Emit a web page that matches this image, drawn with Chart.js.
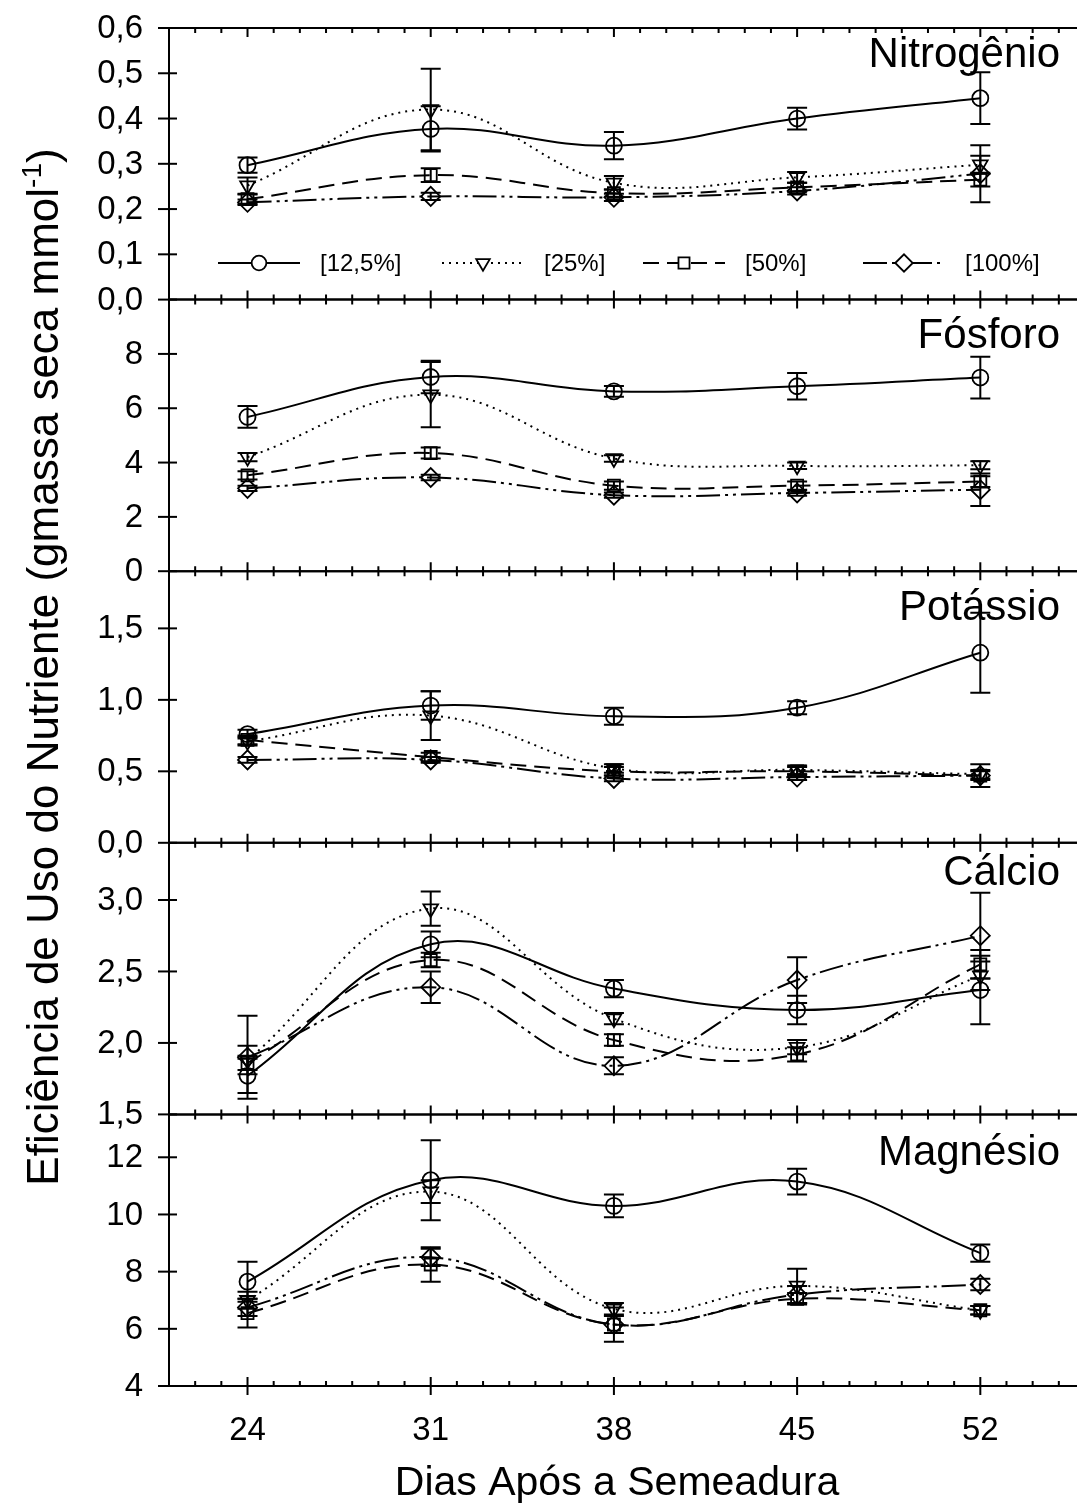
<!DOCTYPE html>
<html>
<head>
<meta charset="utf-8">
<script src="https://cdn.jsdelivr.net/npm/chart.js@4.4.1/dist/chart.umd.min.js"></script>
<style>
  html, body { margin: 0; padding: 0; background: #fff; overflow: hidden; }
  #quadro { width: 1077px; height: 1503px; overflow: hidden; }
  canvas { display: block; }
</style>
</head>
<body>
<div id="quadro"><canvas id="grafico" width="1100" height="1503"></canvas></div>
<script>
const dias = [24, 31, 38, 45, 52];
const ticksDias = [24, 31, 38, 45, 52];
const tratamentos = ['[12,5%]', '[25%]', '[50%]', '[100%]'];
const nutrientes = ['Nitrogênio', 'Fósforo', 'Potássio', 'Cálcio', 'Magnésio'];

// uma linha por tratamento: 12,5% / 25% / 50% / 100%
const nitrogenio = [
  [0.297, 0.377, 0.340, 0.400, 0.445],
  [0.252, 0.420, 0.258, 0.270, 0.298],
  [0.222, 0.275, 0.235, 0.248, 0.265],
  [0.215, 0.228, 0.226, 0.240, 0.278]
];
const nitrogenioErro = [
  [0.017, 0.050, 0.030, 0.024, 0.057],
  [0.018, 0.090, 0.015, 0.012, 0.020],
  [0.010, 0.015, 0.008, 0.010, 0.015],
  [0.006, 0.008, 0.008, 0.008, 0.063]
];
const fosforo = [
  [5.68, 7.15, 6.62, 6.81, 7.13],
  [4.20, 6.50, 4.15, 3.88, 3.90],
  [3.53, 4.35, 3.15, 3.15, 3.30],
  [3.05, 3.45, 2.80, 2.88, 3.00]
];
const fosforoErro = [
  [0.40, 0.60, 0.20, 0.49, 0.77],
  [0.15, 1.20, 0.12, 0.12, 0.15],
  [0.15, 0.20, 0.15, 0.15, 0.20],
  [0.10, 0.10, 0.10, 0.10, 0.60]
];
const potassio = [
  [0.76, 0.96, 0.885, 0.945, 1.33],
  [0.71, 0.89, 0.52, 0.51, 0.48],
  [0.72, 0.60, 0.50, 0.50, 0.47],
  [0.58, 0.58, 0.45, 0.46, 0.47]
];
const potassioErro = [
  [0.03, 0.10, 0.06, 0.045, 0.28],
  [0.03, 0.17, 0.03, 0.03, 0.03],
  [0.03, 0.03, 0.03, 0.03, 0.08],
  [0.02, 0.02, 0.02, 0.02, 0.03]
];
const calcio = [
  [1.77, 2.69, 2.38, 2.23, 2.37],
  [1.88, 2.94, 2.17, 1.97, 2.47],
  [1.86, 2.58, 2.02, 1.92, 2.55],
  [1.90, 2.39, 1.84, 2.44, 2.75]
];
const calcioErro = [
  [0.12, 0.09, 0.06, 0.10, 0.24],
  [0.10, 0.12, 0.04, 0.05, 0.10],
  [0.05, 0.05, 0.04, 0.05, 0.10],
  [0.29, 0.11, 0.06, 0.16, 0.30]
];
const magnesio = [
  [7.65, 11.20, 10.30, 11.15, 8.65],
  [7.00, 10.80, 6.70, 7.50, 6.65],
  [6.55, 8.25, 6.15, 7.05, 6.65],
  [6.75, 8.50, 6.15, 7.20, 7.55]
];
const magnesioErro = [
  [0.70, 1.40, 0.40, 0.45, 0.30],
  [0.30, 0.40, 0.20, 0.60, 0.15],
  [0.50, 0.60, 0.30, 0.20, 0.15],
  [0.30, 0.30, 0.60, 0.30, 0.20]
];

const ticksN = [0, 0.1, 0.2, 0.3, 0.4, 0.5, 0.6];
const ticksP = [0, 2, 4, 6, 8];
const ticksK = [0, 0.5, 1.0, 1.5];
const ticksCa = [1.5, 2.0, 2.5, 3.0];
const ticksMg = [4, 6, 8, 10, 12];

const limitesN = [0, 0.6];
const limitesP = [0, 10];
const limitesK = [0, 1.9];
const limitesCa = [1.5, 3.4];
const limitesMg = [4, 13.5];
const limitesDias = [21, 56];

const paineis = [
  { valores: nitrogenio, erros: nitrogenioErro, limites: limitesN, ticks: ticksN, casas: 1 },
  { valores: fosforo, erros: fosforoErro, limites: limitesP, ticks: ticksP, casas: 0 },
  { valores: potassio, erros: potassioErro, limites: limitesK, ticks: ticksK, casas: 1 },
  { valores: calcio, erros: calcioErro, limites: limitesCa, ticks: ticksCa, casas: 1 },
  { valores: magnesio, erros: magnesioErro, limites: limitesMg, ticks: ticksMg, casas: 0 }
];

const estilos = [
  { borderDash: [], pointStyle: 'circle', pointRadius: 8, pointRotation: 0 },
  { borderDash: [2, 5], pointStyle: 'triangle', pointRadius: 8.5, pointRotation: 180 },
  { borderDash: [16, 8], pointStyle: 'rect', pointRadius: 8.5, pointRotation: 0 },
  { borderDash: [24, 5, 3, 5, 3, 5], pointStyle: 'rectRot', pointRadius: 9.5, pointRotation: 0 }
];

const FONTE = '"Liberation Sans", Arial, sans-serif';

const datasets = [];
const scales = {
  x: {
    type: 'linear',
    position: 'bottom',
    min: limitesDias[0],
    max: limitesDias[1],
    afterBuildTicks: s => { s.ticks = ticksDias.map(v => ({ value: v })); },
    afterFit: s => { s.height = 117; },
    grid: { display: false, drawTicks: false },
    border: { display: false },
    ticks: { font: { family: FONTE, size: 33 }, color: '#000', padding: 25, maxRotation: 0 }
  }
};

paineis.forEach((p, i) => {
  const id = 'y' + i;
  scales[id] = {
    type: 'linear',
    position: 'left',
    stack: 'paineis',
    stackWeight: 1,
    weight: 10 - i,
    min: p.limites[0],
    max: p.limites[1],
    afterBuildTicks: s => { s.ticks = p.ticks.map(v => ({ value: v })); },
    afterFit: s => { s.width = 169; },
    grid: { display: false, drawTicks: false },
    border: { display: false },
    ticks: { display: false }
  };
  p.valores.forEach((serie, j) => {
    datasets.push({
      label: tratamentos[j],
      yAxisID: id,
      data: dias.map((d, k) => ({ x: d, y: serie[k] })),
      erros: p.erros[j],
      borderColor: '#000',
      borderWidth: 2,
      borderDash: estilos[j].borderDash,
      tension: 0.4,
      fill: false,
      pointStyle: estilos[j].pointStyle,
      pointRadius: estilos[j].pointRadius,
      pointRotation: estilos[j].pointRotation,
      pointBorderWidth: 1.8,
      pointBorderColor: '#000',
      pointBackgroundColor: 'rgba(0,0,0,0)'
    });
  });
});

const desenho = {
  id: 'desenho',
  afterDatasetsDraw(chart) {
    const ctx = chart.ctx;
    const x = chart.scales.x;
    const area = chart.chartArea;
    ctx.save();
    ctx.strokeStyle = '#000';
    ctx.fillStyle = '#000';
    ctx.setLineDash([]);
    ctx.lineWidth = 2;

    // barras de erro
    chart.data.datasets.forEach(ds => {
      const ys = chart.scales[ds.yAxisID];
      ds.data.forEach((pt, k) => {
        const e = ds.erros[k];
        const px = x.getPixelForValue(pt.x);
        const a = ys.getPixelForValue(pt.y + e);
        const b = ys.getPixelForValue(pt.y - e);
        ctx.beginPath();
        ctx.moveTo(px, a); ctx.lineTo(px, b);
        ctx.moveTo(px - 10, a); ctx.lineTo(px + 10, a);
        ctx.moveTo(px - 10, b); ctx.lineTo(px + 10, b);
        ctx.stroke();
      });
    });

    // moldura e marcas
    ctx.beginPath();
    ctx.moveTo(area.left, area.top);
    ctx.lineTo(area.left, area.bottom);
    ctx.stroke();
    paineis.forEach((p, i) => {
      const ys = chart.scales['y' + i];
      [ys.top, ys.bottom].forEach((yy, lado) => {
        ctx.beginPath();
        ctx.moveTo(area.left, yy); ctx.lineTo(area.right, yy);
        const dir = lado === 0 ? 1 : -1;
        for (let d = limitesDias[0]; d <= limitesDias[1]; d++) {
          const px = x.getPixelForValue(d);
          const maior = ticksDias.includes(d);
          const len = maior ? 9 : 5;
          ctx.moveTo(px, yy);
          ctx.lineTo(px, yy + dir * len);
          if (maior && i === paineis.length - 1 && lado === 1) {
            ctx.moveTo(px, yy); ctx.lineTo(px, yy + 9);
          }
        }
        ctx.stroke();
      });
      // marcas e rótulos do eixo y
      ctx.font = '33px ' + FONTE;
      ctx.textAlign = 'right';
      ctx.textBaseline = 'middle';
      p.ticks.forEach(v => {
        const py = ys.getPixelForValue(v);
        ctx.beginPath();
        ctx.moveTo(area.left - 11, py); ctx.lineTo(area.left + 8, py);
        ctx.stroke();
        const txt = v.toFixed(p.casas).replace('.', ',');
        ctx.fillText(txt, 143, py + 1);
      });
    });

    // nomes dos nutrientes
    const linhasBase = [67, 348, 620, 885, 1165];
    ctx.font = '42px ' + FONTE;
    ctx.textAlign = 'right';
    ctx.textBaseline = 'alphabetic';
    nutrientes.forEach((n, i) => ctx.fillText(n, 1060, linhasBase[i]));

    // legenda
    const posLegenda = [218, 442, 643, 863];
    const yl = 263;
    ctx.font = '24px ' + FONTE;
    ctx.textAlign = 'left';
    ctx.textBaseline = 'middle';
    tratamentos.forEach((t, j) => {
      const x0 = posLegenda[j];
      ctx.setLineDash(estilos[j].borderDash);
      ctx.beginPath();
      ctx.moveTo(x0, yl); ctx.lineTo(x0 + 82, yl);
      ctx.stroke();
      ctx.setLineDash([]);
      ctx.fillStyle = '#fff';
      ctx.lineWidth = 1.8;
      Chart.helpers.drawPoint(ctx, {
        pointStyle: estilos[j].pointStyle,
        rotation: estilos[j].pointRotation,
        radius: estilos[j].pointRadius * 0.92,
        borderWidth: 1.8
      }, x0 + 41, yl);
      ctx.lineWidth = 2;
      ctx.fillStyle = '#000';
      ctx.fillText(t, x0 + 102, yl + 1);
    });

    // título do eixo x
    ctx.font = '41px ' + FONTE;
    ctx.textAlign = 'center';
    ctx.textBaseline = 'alphabetic';
    ctx.fillText('Dias Após a Semeadura', 617, 1495);

    // título do eixo y com expoente
    const t1 = 'Eficiência de Uso do Nutriente (gmassa seca mmol';
    const t2 = '-1';
    const t3 = ')';
    ctx.save();
    ctx.translate(58, 667);
    ctx.rotate(-Math.PI / 2);
    ctx.textAlign = 'left';
    ctx.font = '44px ' + FONTE;
    const w1 = ctx.measureText(t1).width;
    const w3 = ctx.measureText(t3).width;
    ctx.font = '28px ' + FONTE;
    const w2 = ctx.measureText(t2).width;
    let cx = -(w1 + w2 + w3) / 2;
    ctx.font = '44px ' + FONTE;
    ctx.fillText(t1, cx, 0);
    cx += w1;
    ctx.font = '28px ' + FONTE;
    ctx.fillText(t2, cx, -17);
    cx += w2;
    ctx.font = '44px ' + FONTE;
    ctx.fillText(t3, cx, 0);
    ctx.restore();

    ctx.restore();
  }
};

new Chart(document.getElementById('grafico'), {
  type: 'line',
  data: { datasets: datasets },
  options: {
    responsive: false,
    animation: false,
    layout: { padding: { top: 28, right: 15, bottom: 0, left: 0 } },
    plugins: { legend: { display: false }, tooltip: { enabled: false } },
    scales: scales
  },
  plugins: [desenho]
});
</script>
</body>
</html>
